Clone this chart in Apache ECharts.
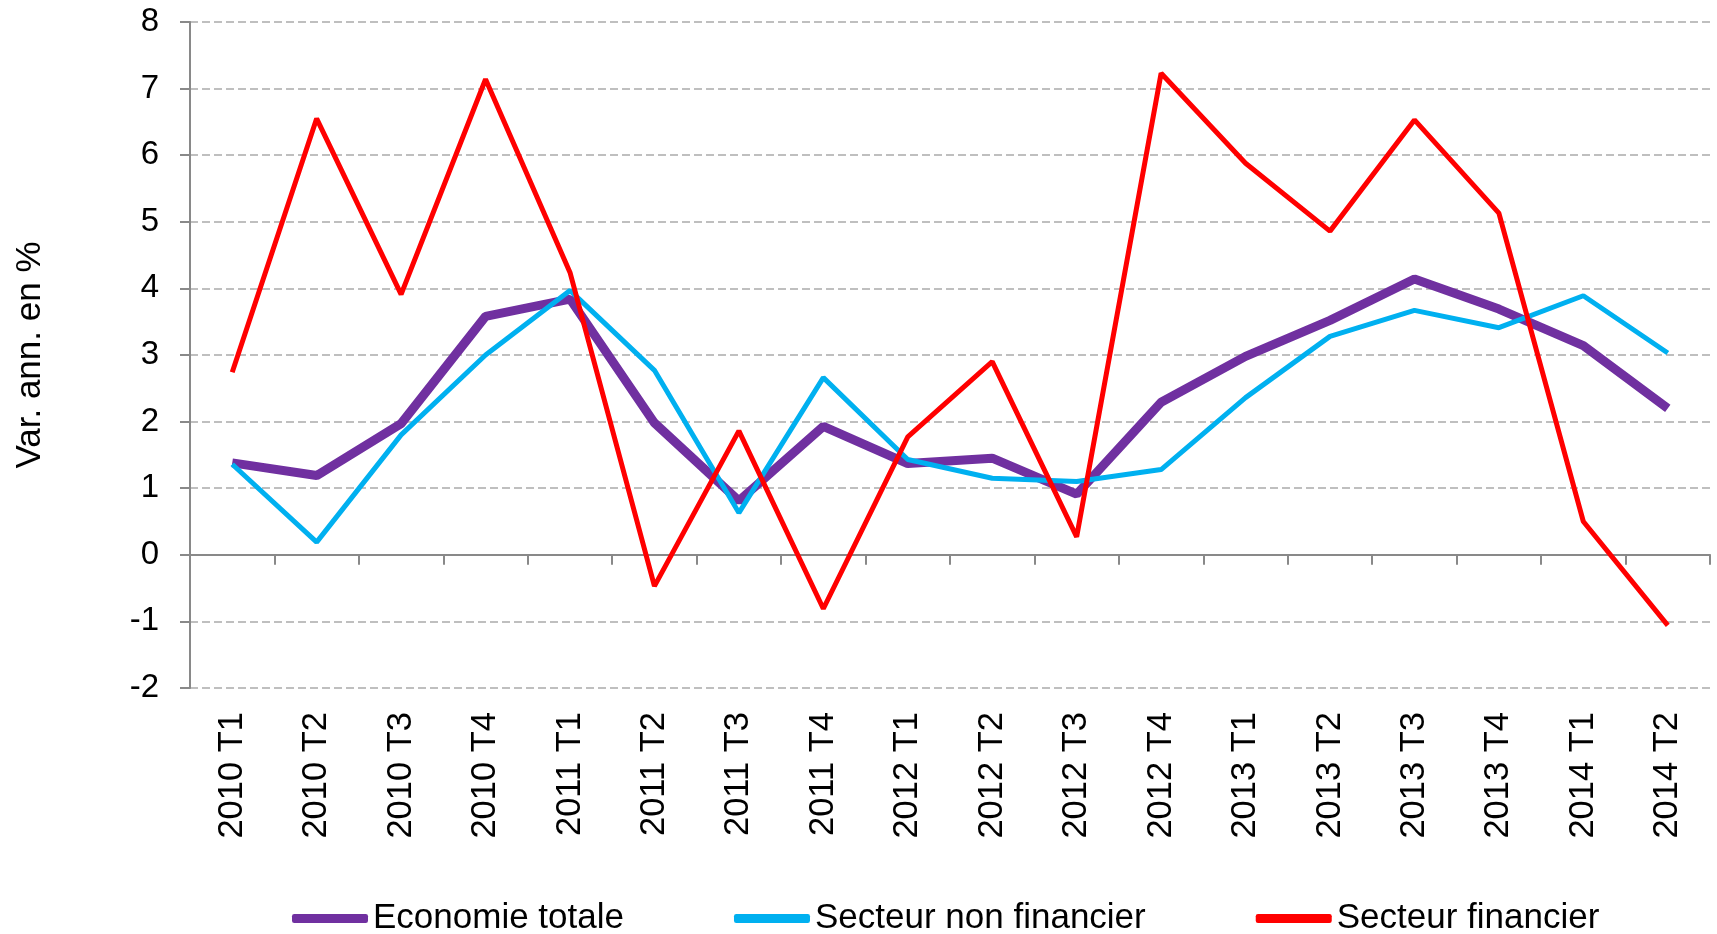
<!DOCTYPE html>
<html>
<head>
<meta charset="utf-8">
<script src="https://cdn.jsdelivr.net/npm/echarts@6/dist/echarts.min.js"></script>
<style>
html, body { margin: 0; padding: 0; background: #fff; }
#chart { width: 1717px; height: 934px; }
</style>
</head>
<body>
<div id="chart"></div>
<script>
// trimestres
var categories = ['2010 T1', '2010 T2', '2010 T3', '2010 T4', '2011 T1', '2011 T2', '2011 T3', '2011 T4',
    '2012 T1', '2012 T2', '2012 T3', '2012 T4', '2013 T1', '2013 T2', '2013 T3', '2013 T4', '2014 T1', '2014 T2'];

var economieTotale = [1.38, 1.19, 1.97, 3.58, 3.84, 1.98, 0.81, 1.93, 1.37, 1.45, 0.91, 2.29, 2.98, 3.52, 4.14, 3.69, 3.14, 2.20];
var secteurNonFinancier = [1.36, 0.19, 1.80, 3.00, 3.97, 2.77, 0.63, 2.66, 1.43, 1.15, 1.10, 1.28, 2.36, 3.28, 3.67, 3.41, 3.89, 3.03];
var secteurFinancier = [2.74, 6.55, 3.91, 7.14, 4.24, -0.47, 1.86, -0.81, 1.77, 2.90, 0.27, 7.23, 5.88, 4.86, 6.53, 5.13, 0.50, -1.06];

var seriesNames = ['Economie totale', 'Secteur non financier', 'Secteur financier'];

var font = 'Liberation Sans, Arial, sans-serif';
var axisGrey = '#898989';

let mychart = echarts.init(document.getElementById('chart'));

mychart.setOption({
    animation: false,
    textStyle: { fontFamily: font, color: '#000' },
    grid: {
        left: 190,
        right: 7,
        top: 22,
        bottom: 246
    },
    legend: {
        left: 287,
        top: 896,
        itemWidth: 76,
        itemHeight: 9,
        itemGap: 110,
        icon: 'roundRect',
        textStyle: { fontSize: 35, color: '#000', fontFamily: font },
        data: seriesNames
    },
    xAxis: [
        {
            // axe sur le zéro : ligne + graduations
            type: 'category',
            data: categories,
            boundaryGap: true,
            axisLine: { onZero: true, lineStyle: { color: axisGrey, width: 2 } },
            axisTick: { show: true, length: 10, lineStyle: { color: axisGrey, width: 2 } },
            axisLabel: { show: false },
            splitLine: { show: false }
        },
        {
            // libellés en bas
            type: 'category',
            data: categories,
            position: 'bottom',
            boundaryGap: true,
            axisLine: { show: false, onZero: false },
            axisTick: { show: false },
            axisLabel: {
                rotate: 90,
                fontSize: 34.5,
                color: '#000',
                margin: 24,
                interval: 0,
                fontFamily: font
            },
            splitLine: { show: false }
        }
    ],
    yAxis: {
        type: 'value',
        min: -2,
        max: 8,
        interval: 1,
        name: 'Var. ann. en %',
        nameLocation: 'middle',
        nameRotate: 90,
        nameGap: 142,
        nameTextStyle: { fontSize: 35, color: '#000', fontFamily: font },
        axisLine: { show: true, lineStyle: { color: axisGrey, width: 2 } },
        axisTick: { show: true, length: 10, lineStyle: { color: axisGrey, width: 2 } },
        axisLabel: { fontSize: 33, color: '#000', margin: 31, fontFamily: font },
        splitLine: {
            show: true,
            lineStyle: { color: '#bfbfbf', width: 2, type: [8, 4] }
        }
    },
    series: [
        {
            name: seriesNames[0],
            type: 'line',
            data: economieTotale,
            showSymbol: false,
            symbol: 'none',
            z: 3,
            lineStyle: { color: '#7030a0', width: 9 },
            itemStyle: { color: '#7030a0' }
        },
        {
            name: seriesNames[1],
            type: 'line',
            data: secteurNonFinancier,
            showSymbol: false,
            symbol: 'none',
            z: 4,
            lineStyle: { color: '#00b0f0', width: 5 },
            itemStyle: { color: '#00b0f0' }
        },
        {
            name: seriesNames[2],
            type: 'line',
            data: secteurFinancier,
            showSymbol: false,
            symbol: 'none',
            z: 5,
            lineStyle: { color: '#ff0000', width: 5 },
            itemStyle: { color: '#ff0000' }
        }
    ]
});
</script>
</body>
</html>
